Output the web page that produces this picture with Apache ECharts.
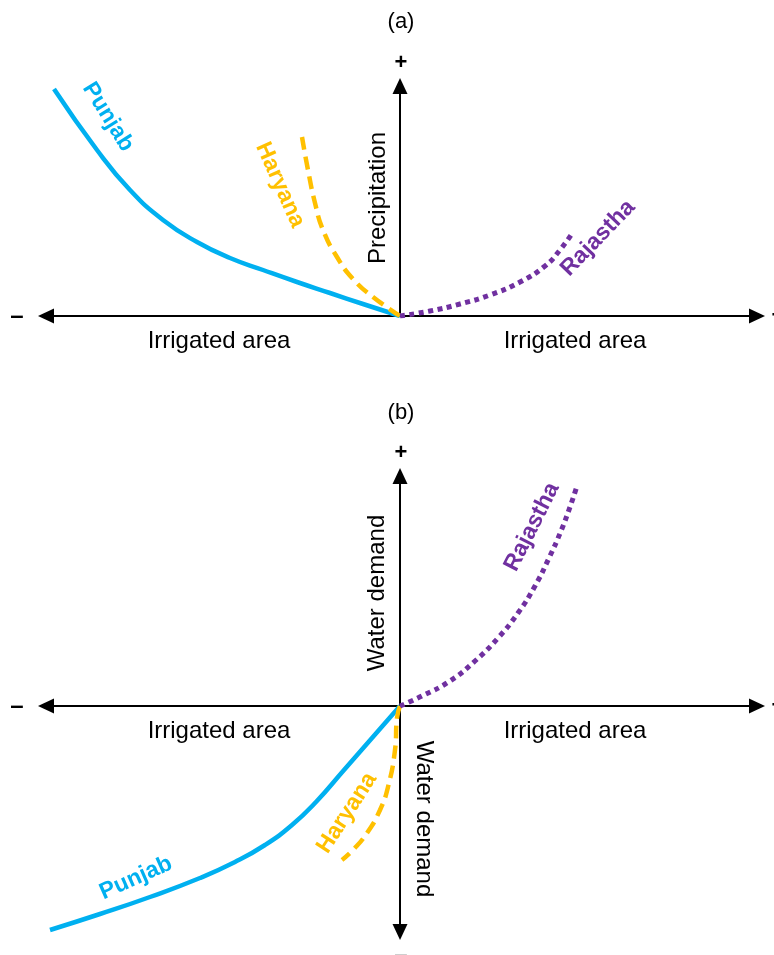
<!DOCTYPE html>
<html>
<head>
<meta charset="utf-8">
<style>
  html, body { margin: 0; padding: 0; background: #ffffff; }
  #chart { width: 774px; height: 955px; }
</style>
<script src="https://cdn.jsdelivr.net/npm/echarts@6/dist/echarts.min.js"></script>
</head>
<body>
<div id="chart"></div>
<script>
// Conceptual response curves: offsets from the origin of each panel
// (x = irrigated area, y = precipitation / water demand), arbitrary units.

// Panel (a): precipitation vs irrigated area
const punjabA = [[-346, 227], [-303, 166], [-270, 126], [-237, 96], [-203, 74], [-170, 58],
                 [-137, 46], [-103, 34], [-70, 23], [-37, 12], [0, 0]];
const haryanaA = [[-98, 179], [-92, 146], [-85, 113], [-77, 86], [-63, 59], [-47, 37], [-27, 19], [0, 0]];
const rajasthaA = [[0, 0], [30, 5], [60, 12], [90, 21], [120, 34], [145, 50], [160, 66], [173, 84]];

// Panel (b): water demand vs irrigated area
const punjabB = [[-350, -224], [-300, -208], [-250, -191], [-200, -172], [-165, -156], [-135, -139],
                 [-108, -119], [-84, -96], [-56, -64], [-28, -32], [0, 0]];
const haryanaB = [[0, 0], [-3, -12], [-5, -44], [-12, -81], [-20, -104], [-33, -127], [-47, -144], [-58, -154]];
const rajasthaB = [[0, 0], [22, 10], [50, 25], [75, 45], [98, 68], [118, 93], [135, 120],
                   [149, 148], [161, 175], [170, 199], [177, 220]];

// Axis extents (the arrow heads sit centred on the axis ends)
const xRange = [-354, 357];
const yRangeA = [0, 230];
const yRangeB = [-226, 230];

const seriesNames = ['Punjab', 'Haryana', 'Rajastha'];
const axisTitles = { x: 'Irrigated area', yA: 'Precipitation', yB: 'Water demand' };
const panelTitles = ['(a)', '(b)'];

const COL = { punjab: '#00B0F0', haryana: '#FFC000', rajastha: '#7030A0' };
const FONT = '"Liberation Sans", Arial, sans-serif';

const chart = echarts.init(document.getElementById('chart'), null, { renderer: 'canvas' });

function valueAxis(gridIndex, range, symbol) {
  return {
    type: 'value', gridIndex: gridIndex, min: range[0], max: range[1],
    axisLine: { show: true, onZero: true, symbol: symbol, symbolSize: [15, 16],
                lineStyle: { color: '#000', width: 2 } },
    axisTick: { show: false }, axisLabel: { show: false }, splitLine: { show: false }
  };
}

function line(name, data, xi, color, type, width) {
  return {
    name: name, type: 'line', xAxisIndex: xi, yAxisIndex: xi, data: data,
    smooth: 0.5, showSymbol: false, symbol: 'none', silent: true,
    lineStyle: { color: color, width: width, type: type, cap: 'butt' }
  };
}

function txt(text, x, y, opts) {
  opts = opts || {};
  return {
    type: 'text', x: x, y: y, rotation: (opts.rot || 0) * Math.PI / 180, silent: true,
    style: {
      text: text, x: 0, y: 0, align: 'center', verticalAlign: 'middle',
      font: (opts.weight || 'normal') + ' ' + (opts.size || 24) + 'px ' + FONT,
      fill: opts.color || '#000'
    }
  };
}

const tri = ['triangle', 'triangle'];

chart.setOption({
  backgroundColor: '#ffffff',
  animation: false,
  grid: [
    { left: 46, right: 17, top: 86, height: 230 },
    { left: 46, right: 17, top: 476, height: 456 }
  ],
  xAxis: [
    valueAxis(0, xRange, tri),
    valueAxis(1, xRange, tri)
  ],
  yAxis: [
    valueAxis(0, yRangeA, ['none', 'triangle']),
    valueAxis(1, yRangeB, tri)
  ],
  series: [
    line(seriesNames[0], punjabA, 0, COL.punjab, 'solid', 4.5),
    line(seriesNames[1], haryanaA, 0, COL.haryana, [13, 7], 4.5),
    line(seriesNames[2], rajasthaA, 0, COL.rajastha, [5, 4.5], 5),
    line(seriesNames[0], punjabB, 1, COL.punjab, 'solid', 4.5),
    line(seriesNames[1], haryanaB, 1, COL.haryana, [13, 7], 4.5),
    line(seriesNames[2], rajasthaB, 1, COL.rajastha, [5, 4.5], 5)
  ],
  graphic: [
    // panel (a)
    txt(panelTitles[0], 401, 22, { size: 22 }),
    txt('+', 401, 63, { weight: 'bold', size: 22 }),
    txt('–', 17, 316, { weight: 'bold', size: 24 }),
    txt('+', 778, 316, { weight: 'bold', size: 22 }),
    txt(axisTitles.x, 219, 341),
    txt(axisTitles.x, 575, 341),
    txt(axisTitles.yA, 378, 198, { rot: 90 }),
    txt(seriesNames[0], 108, 117, { rot: -58, weight: 'bold', size: 23, color: COL.punjab }),
    txt(seriesNames[1], 280, 185, { rot: -66, weight: 'bold', size: 23, color: COL.haryana }),
    txt(seriesNames[2], 598, 238, { rot: 46, weight: 'bold', size: 23, color: COL.rajastha }),
    // panel (b)
    txt(panelTitles[1], 401, 413, { size: 22 }),
    txt('+', 401, 453, { weight: 'bold', size: 22 }),
    txt('–', 17, 706, { weight: 'bold', size: 24 }),
    txt('+', 778, 706, { weight: 'bold', size: 22 }),
    txt('–', 401, 955, { weight: 'bold', size: 24, color: '#888' }),
    txt(axisTitles.x, 219, 731),
    txt(axisTitles.x, 575, 731),
    txt(axisTitles.yB, 377, 593, { rot: 90 }),
    txt(axisTitles.yB, 424, 819, { rot: -90 }),
    txt(seriesNames[2], 532, 527, { rot: 63, weight: 'bold', size: 23, color: COL.rajastha }),
    txt(seriesNames[0], 136, 878, { rot: 24, weight: 'bold', size: 23, color: COL.punjab }),
    txt(seriesNames[1], 347, 813, { rot: 57, weight: 'bold', size: 23, color: COL.haryana })
  ]
});
</script>
</body>
</html>
